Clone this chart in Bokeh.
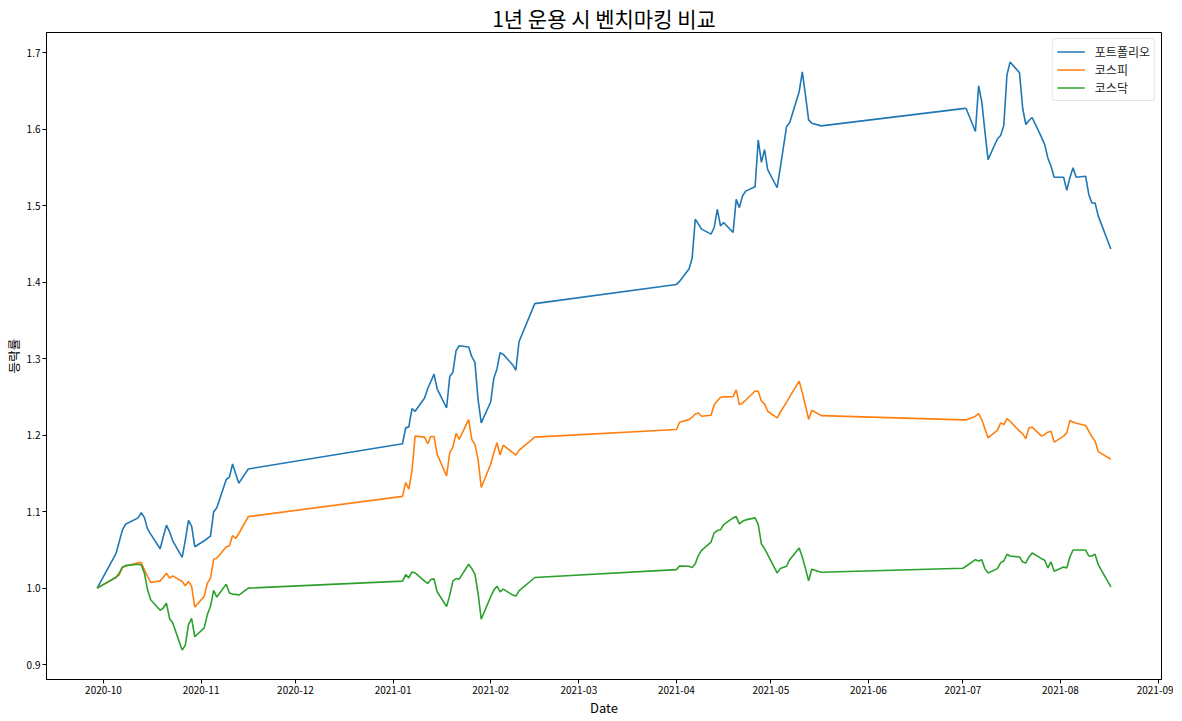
import pandas as pd
from bokeh.plotting import figure
from bokeh.models import (ColumnDataSource, Range1d, MonthsTicker, DatetimeTickFormatter,
                          FixedTicker, NumeralTickFormatter, Legend, LegendItem)
from bokeh.embed import file_html
from bokeh.resources import INLINE

# ---- data ----
dates = [
    "2020-09-29", "2020-10-05", "2020-10-06", "2020-10-07", "2020-10-08", "2020-10-12",
    "2020-10-13", "2020-10-14", "2020-10-15", "2020-10-16", "2020-10-19", "2020-10-20",
    "2020-10-21", "2020-10-22", "2020-10-23", "2020-10-26", "2020-10-27", "2020-10-28",
    "2020-10-29", "2020-10-30", "2020-11-02", "2020-11-03", "2020-11-04", "2020-11-05",
    "2020-11-06", "2020-11-09", "2020-11-10", "2020-11-11", "2020-11-12", "2020-11-13",
    "2020-11-16",
    "2021-01-04", "2021-01-05", "2021-01-06", "2021-01-07", "2021-01-08", "2021-01-11",
    "2021-01-12", "2021-01-13", "2021-01-14", "2021-01-15", "2021-01-18", "2021-01-19",
    "2021-01-20", "2021-01-21", "2021-01-22", "2021-01-25", "2021-01-26", "2021-01-27",
    "2021-01-28", "2021-01-29", "2021-02-01", "2021-02-02", "2021-02-03", "2021-02-04",
    "2021-02-05", "2021-02-08", "2021-02-09", "2021-02-10", "2021-02-15",
    "2021-04-01", "2021-04-02", "2021-04-05", "2021-04-06", "2021-04-07", "2021-04-08",
    "2021-04-09", "2021-04-12", "2021-04-13", "2021-04-14", "2021-04-15", "2021-04-16",
    "2021-04-19", "2021-04-20", "2021-04-21", "2021-04-22", "2021-04-23", "2021-04-26",
    "2021-04-27", "2021-04-28", "2021-04-29", "2021-04-30", "2021-05-03", "2021-05-04",
    "2021-05-06", "2021-05-07", "2021-05-10", "2021-05-11", "2021-05-12", "2021-05-13",
    "2021-05-14", "2021-05-17",
    "2021-07-01", "2021-07-02", "2021-07-05", "2021-07-06", "2021-07-07", "2021-07-08",
    "2021-07-09", "2021-07-12", "2021-07-13", "2021-07-14", "2021-07-15", "2021-07-16",
    "2021-07-19", "2021-07-20", "2021-07-21", "2021-07-22", "2021-07-23", "2021-07-26",
    "2021-07-27", "2021-07-28", "2021-07-29", "2021-07-30", "2021-08-02", "2021-08-03",
    "2021-08-04", "2021-08-05", "2021-08-06", "2021-08-09", "2021-08-10", "2021-08-11",
    "2021-08-12", "2021-08-13", "2021-08-17",
]

portfolio = [
    1.0000, 1.0455, 1.0606, 1.0758, 1.0835, 1.0918, 1.0987, 1.0922, 1.0775, 1.0706,
    1.0515, 1.0671, 1.0823, 1.0736, 1.0619, 1.0403, 1.0628, 1.0887, 1.0810, 1.0541,
    1.0619, 1.0649, 1.0680, 1.0996, 1.1052, 1.1420, 1.1450, 1.1623, 1.1494, 1.1372,
    1.1558,
    1.1887, 1.2095, 1.2108, 1.2346, 1.2312, 1.2485, 1.2610, 1.2701, 1.2797, 1.2606,
    1.2355, 1.2766, 1.2823, 1.3104, 1.3169, 1.3152, 1.3026, 1.2952, 1.2463, 1.2160,
    1.2433, 1.2745, 1.2866, 1.3078, 1.3056, 1.2918, 1.2848, 1.3221, 1.3719,
    1.3970, 1.4009, 1.4173, 1.4312, 1.4823, 1.4758, 1.4693, 1.4628, 1.4714, 1.4952,
    1.4736, 1.4779, 1.4649, 1.5082, 1.4974, 1.5126, 1.5190, 1.5247, 1.5861, 1.5567,
    1.5732, 1.5472, 1.5234, 1.5494, 1.6035, 1.6087, 1.6489, 1.6749, 1.6446, 1.6121,
    1.6078, 1.6043,
    1.6268, 1.6273, 1.5970, 1.6567, 1.6359, 1.5970, 1.5602, 1.5874, 1.5918, 1.6048,
    1.6706, 1.6879, 1.6736, 1.6273, 1.6061, 1.6113, 1.6152, 1.5892, 1.5797, 1.5623,
    1.5515, 1.5372, 1.5372, 1.5199, 1.5364, 1.5494, 1.5372, 1.5385, 1.5147, 1.5035,
    1.5035, 1.4866, 1.4433,
]

kospi = [
    1.0000, 1.0143, 1.0173, 1.0268, 1.0290, 1.0333, 1.0333, 1.0238, 1.0152, 1.0074,
    1.0095, 1.0143, 1.0195, 1.0130, 1.0160, 1.0087, 1.0030, 1.0087, 1.0022, 0.9753,
    0.9892, 1.0065, 1.0130, 1.0377, 1.0390, 1.0541, 1.0550, 1.0688, 1.0649, 1.0714,
    1.0935,
    1.1199, 1.1381, 1.1294, 1.1532, 1.1987, 1.1974, 1.1887, 1.1983, 1.1983, 1.1749,
    1.1468, 1.1771, 1.1848, 1.2022, 1.1944, 1.2203, 1.1944, 1.1879, 1.1684, 1.1316,
    1.1619, 1.1771, 1.1900, 1.1740, 1.1870, 1.1771, 1.1740, 1.1801, 1.1974,
    1.2074, 1.2169, 1.2203, 1.2234, 1.2277, 1.2290, 1.2247, 1.2260, 1.2398, 1.2447,
    1.2495, 1.2500, 1.2504, 1.2591, 1.2399, 1.2418, 1.2456, 1.2577, 1.2572, 1.2447,
    1.2408, 1.2312, 1.2226, 1.2299, 1.2432, 1.2504, 1.2706, 1.2552, 1.2384, 1.2206,
    1.2326, 1.2255,
    1.2199, 1.2199, 1.2247, 1.2281, 1.2203, 1.2082, 1.1965, 1.2065, 1.2160, 1.2139,
    1.2216, 1.2182, 1.2052, 1.2017, 1.1957, 1.2095, 1.2104, 1.1987, 1.2009, 1.2039,
    1.2052, 1.1909, 1.1987, 1.2030, 1.2190, 1.2173, 1.2156, 1.2126, 1.2052, 1.1978,
    1.1922, 1.1784, 1.1684,
]

kosdaq = [
    1.0000, 1.0143, 1.0195, 1.0273, 1.0294, 1.0312, 1.0303, 1.0195, 0.9978, 0.9848,
    0.9710, 0.9740, 0.9805, 0.9602, 0.9545, 0.9190, 0.9255, 0.9524, 0.9606, 0.9364,
    0.9481, 0.9654, 0.9762, 0.9970, 0.9883, 1.0052, 0.9935, 0.9922, 0.9918, 0.9909,
    1.0000,
    1.0091, 1.0177, 1.0134, 1.0212, 1.0199, 1.0091, 1.0061, 1.0113, 1.0121, 0.9952,
    0.9758, 0.9909, 1.0091, 1.0126, 1.0117, 1.0312, 1.0255, 1.0182, 0.9931, 0.9593,
    0.9887, 0.9974, 1.0026, 0.9952, 0.9987, 0.9909, 0.9896, 0.9965, 1.0139,
    1.0242, 1.0290, 1.0286, 1.0268, 1.0320, 1.0429, 1.0494, 1.0602, 1.0723, 1.0753,
    1.0762, 1.0831, 1.0918, 1.0935, 1.0840, 1.0874, 1.0892, 1.0918, 1.0831, 1.0580,
    1.0515, 1.0437, 1.0199, 1.0255, 1.0286, 1.0372, 1.0524, 1.0407, 1.0255, 1.0095,
    1.0247, 1.0208,
    1.0260, 1.0286, 1.0372, 1.0355, 1.0372, 1.0255, 1.0199, 1.0255, 1.0333, 1.0355,
    1.0442, 1.0420, 1.0407, 1.0342, 1.0329, 1.0407, 1.0459, 1.0385, 1.0364, 1.0264,
    1.0342, 1.0221, 1.0277, 1.0264, 1.0407, 1.0498, 1.0498, 1.0498, 1.0420, 1.0420,
    1.0442, 1.0307, 1.0017,
]

series_cols = ["portfolio", "kospi", "kosdaq"]
series_names = ["포트폴리오", "코스피", "코스닥"]
series_colors = ["#1f77b4", "#ff7f0e", "#2ca02c"]
y_ticks = [0.9, 1.0, 1.1, 1.2, 1.3, 1.4, 1.5, 1.6, 1.7]
title_text = "1년 운용 시 벤치마킹 비교"
x_label = "Date"
y_label = "등락률"

FONT = "Noto Sans CJK KR"

x = pd.to_datetime(dates)
src = ColumnDataSource(dict(date=x, portfolio=portfolio, kospi=kospi, kosdaq=kosdaq))

span = x.max() - x.min()
x_start = (x.min() - span * 0.05).to_pydatetime()
x_end = (x.max() + span * 0.05).to_pydatetime()
all_vals = portfolio + kospi + kosdaq
ymin, ymax = min(all_vals), max(all_vals)
pad = (ymax - ymin) * 0.05

FW, FH = 1115, 647
p = figure(frame_width=FW, frame_height=FH, x_axis_type="datetime",
           x_range=Range1d(x_start, x_end), y_range=Range1d(ymin - pad, ymax + pad),
           output_backend="svg", toolbar_location=None,
           title=title_text,
           min_border_left=30, min_border_right=12, min_border_top=10, min_border_bottom=38)
p.title.align = "center"
p.title.text_font = FONT
p.title.text_font_size = "21px"
p.title.text_font_style = "normal"
p.title.text_color = "black"
p.title.standoff = 0
p.title.offset = 0

p.background_fill_color = "white"
p.border_fill_color = "white"
p.outline_line_color = "black"
p.outline_line_alpha = 1.0
p.outline_line_width = 1
p.xgrid.visible = False
p.ygrid.visible = False

renderers = []
for col, color in zip(series_cols, series_colors):
    r = p.line("date", col, source=src, line_color=color, line_width=1.6)
    renderers.append(r)

legend = Legend(items=[LegendItem(label=n, renderers=[r]) for n, r in zip(series_names, renderers)],
                location="top_right")
legend.label_text_font = FONT
legend.label_text_font_size = "12px"
legend.label_text_color = "#222222"
legend.glyph_width = 28
legend.glyph_height = 17
legend.label_height = 17
legend.label_standoff = 10
legend.spacing = 1
legend.padding = 4
legend.margin = 6
legend.border_line_color = "#cccccc"
legend.border_line_width = 1
legend.background_fill_alpha = 0.8
if "border_radius" in Legend.properties():
    legend.border_radius = 3
p.add_layout(legend)

p.xaxis.ticker = MonthsTicker(months=list(range(1, 13)))
p.xaxis.formatter = DatetimeTickFormatter(months="%Y-%m", days="%Y-%m", years="%Y-%m")
p.yaxis.ticker = FixedTicker(ticks=y_ticks)
p.yaxis.formatter = NumeralTickFormatter(format="0.0")

for ax in (p.xaxis, p.yaxis):
    ax.axis_line_color = "black"
    ax.major_tick_line_color = "black"
    ax.major_tick_out = 4
    ax.major_tick_in = 0
    ax.minor_tick_out = 0
    ax.minor_tick_in = 0
    ax.major_label_text_font = FONT
    ax.major_label_text_font_size = "10px"
    ax.major_label_text_color = "black"
    ax.major_label_standoff = 2
    ax.axis_label_text_font = FONT
    ax.axis_label_text_font_style = "normal"
    ax.axis_label_text_color = "black"
    ax.axis_label_standoff = 1

p.xaxis.axis_label_text_font_size = "13px"
p.yaxis.axis_label_text_font_size = "12.5px"
p.xaxis.axis_label = x_label
p.yaxis.axis_label = y_label

with open("out.html", "w", encoding="utf-8") as f:
    f.write(file_html(p, INLINE))
